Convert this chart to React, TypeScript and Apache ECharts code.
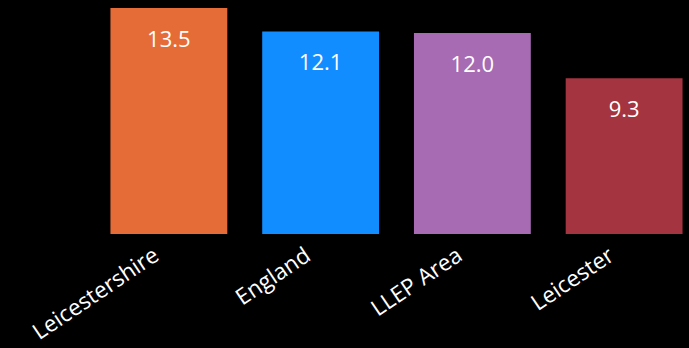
import React, { useEffect, useRef } from "react";
import * as echarts from "echarts";

const categories = ["Leicestershire", "England", "LLEP Area", "Leicester"];
const values = [13.5, 12.1, 12.0, 9.3];
const colors = ["#E66C37", "#118DFF", "#A66BB3", "#A4343F"];

export default function App() {
  const ref = useRef<HTMLDivElement>(null);
  useEffect(() => {
    const chart = echarts.init(ref.current!, null, { renderer: "svg" });
    chart.setOption({
      animation: false,
      backgroundColor: "#000000",
      textStyle: { fontFamily: "'Segoe UI', 'Open Sans', sans-serif" },
      grid: {
        left: 93,
        right: 0,
        top: 8,
        bottom: 114,
        containLabel: false,
        outerBoundsMode: "none",
      },
      xAxis: {
        type: "category",
        data: categories,
        axisLine: { show: false },
        axisTick: { show: false },
        axisLabel: {
          color: "#FFFFFF",
          fontSize: 22.5,
          rotate: 34,
          margin: 9,
          interval: 0,
          padding: [0, 16, 0, 0],
        },
      },
      yAxis: {
        type: "value",
        min: 0,
        max: 13.5,
        show: false,
        splitLine: { show: false },
      },
      series: [
        {
          type: "bar",
          barWidth: "77%",
          data: values.map((v, i) => ({ value: v, itemStyle: { color: colors[i] } })),
          label: {
            show: true,
            position: "insideTop",
            distance: 19,
            color: "#FFFFFF",
            fontSize: 22,
            formatter: (p: any) => p.value.toFixed(1),
          },
        },
      ],
    });
    return () => chart.dispose();
  }, []);
  return (
    <div
      style={{
        position: "absolute",
        left: 0,
        top: 0,
        width: 689,
        height: 348,
        overflow: "hidden",
        background: "#000",
      }}
    >
      <div ref={ref} style={{ width: 700, height: 348 }} />
    </div>
  );
}
